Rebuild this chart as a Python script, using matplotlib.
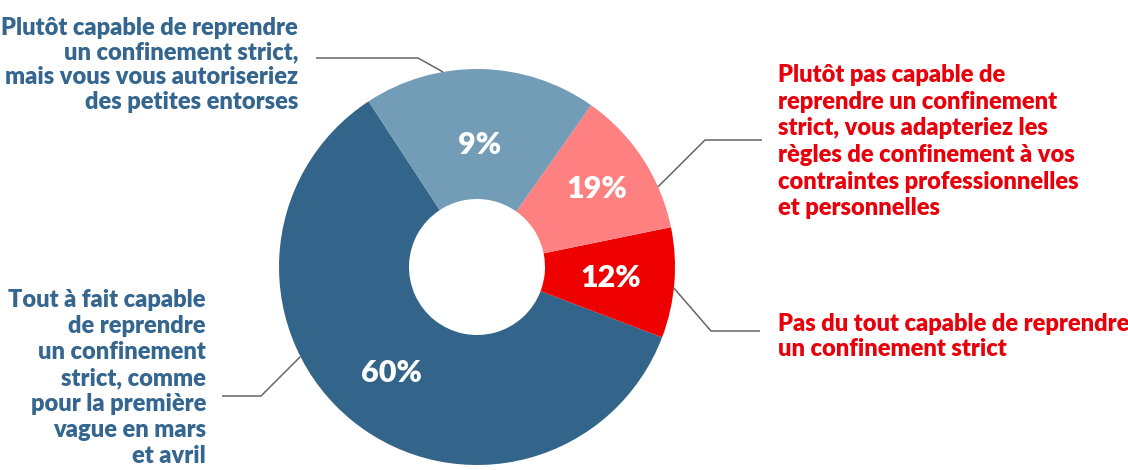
import numpy as np
import matplotlib
matplotlib.use("Agg")
import matplotlib.pyplot as plt

# wedge shares as drawn (counter-clockwise from the top-left edge of the dark slice)
shares = [60, 9, 12, 19]
pct_labels = ["60%", "12%", "19%", "9%"]
colors = ["#33658a", "#ee0000", "#ff8080", "#739cb6"]

label_texts = [
    "Tout à fait capable\nde reprendre\nun confinement\nstrict, comme\npour la première\nvague en mars\net avril",
    "Pas du tout capable de reprendre\nun confinement strict",
    "Plutôt pas capable de\nreprendre un confinement\nstrict, vous adapteriez les\nrègles de confinement à vos\ncontraintes professionnelles\net personnelles",
    "Plutôt capable de reprendre\nun confinement strict,\nmais vous vous autoriseriez\ndes petites entorses",
]
text_colors = ["#34668f", "#e8000b", "#e8000b", "#34668f"]

plt.rcParams["font.family"] = ["Lato", "DejaVu Sans"]

W, H = 1128, 470
fig = plt.figure(figsize=(W / 100, H / 100), dpi=100)
ax = fig.add_axes([0, 0, 1, 1])

cx, cy = 477, H - 267
R, r_in = 198, 68
start = 123.2

wedges, _ = ax.pie(shares, colors=colors, startangle=start, counterclock=True,
                   radius=R, center=(cx, cy), frame=True,
                   wedgeprops=dict(width=R - r_in, edgecolor="none"))

label_r = [136, 134, 143, 122]
for w, lab, lr in zip(wedges, pct_labels, label_r):
    mid = np.deg2rad((w.theta1 + w.theta2) / 2)
    ax.text(cx + lr * np.cos(mid), cy + lr * np.sin(mid), lab, color="white",
            fontsize=22, fontweight="heavy", ha="center", va="center")

# leader lines: (angle on the rim, elbow, end)
leaders = [
    (206.9, (261, H - 396), (222, H - 396)),
    (-6.1, (711, H - 331), (760, H - 331)),
    (23.9, (705, H - 140), (762, H - 140)),
    (99.9, (418, H - 58), (316, H - 58)),
]
for ang, elbow, end in leaders:
    a = np.deg2rad(ang)
    p0 = (cx + R * np.cos(a), cy + R * np.sin(a))
    ax.plot([p0[0], elbow[0], end[0]], [p0[1], elbow[1], end[1]],
            color="#666666", lw=1.1, solid_capstyle="butt")

# category labels
text_pos = [(206, H - 289, "right", 1.22),
            (778, H - 313, "left", 1.16),
            (778, H - 64, "left", 1.26),
            (298, H - 17, "right", 1.14)]
for txt, col, (x, y, ha, ls) in zip(label_texts, text_colors, text_pos):
    ax.text(x, y, txt, color=col, fontsize=17, fontweight="heavy",
            ha=ha, va="top", multialignment=ha, linespacing=ls)

ax.set_xlim(0, W)
ax.set_ylim(0, H)
ax.set_aspect("equal")
ax.axis("off")

fig.savefig("out.png", dpi=100, facecolor="white")
